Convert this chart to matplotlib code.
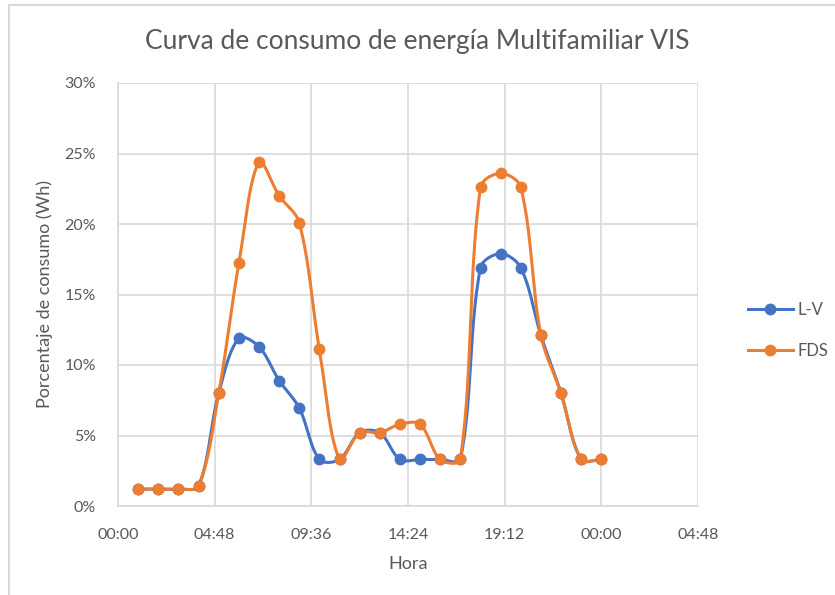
import matplotlib.pyplot as plt
import matplotlib.ticker as mticker
from matplotlib.patches import Rectangle
import numpy as np

plt.rcParams['font.family'] = ['Lato', 'DejaVu Sans']

# horas del dia 1..24 (fraccion de dia)
horas = list(range(1, 25))
lv = [1.2, 1.2, 1.2, 1.4, 8.0, 11.9, 11.3, 8.9, 6.95, 3.3, 3.3, 5.2,
      5.2, 3.3, 3.3, 3.3, 3.3, 16.9, 17.9, 16.9, 12.1, 8.0, 3.3, 3.3]
fds = [1.2, 1.2, 1.2, 1.4, 8.0, 17.2, 24.4, 22.0, 20.1, 11.1, 3.3, 5.2,
       5.2, 5.8, 5.8, 3.3, 3.3, 22.6, 23.6, 22.6, 12.1, 8.0, 3.3, 3.3]
xticks_lbl = ['00:00', '04:48', '09:36', '14:24', '19:12', '00:00', '04:48']

gris = '#595959'
azul = '#4472C4'
naranja = '#ED7D31'

# escala aproximada en pixeles para el suavizado
SX = 580 / 1.2
SY = 423 / 0.30


def suavizar(x, y, n=30):
    # curva suavizada estilo Excel (Bezier con tangentes ponderadas)
    p = np.column_stack([np.asarray(x, float) * SX, np.asarray(y, float) * SY])
    p = np.vstack([p[0], p, p[-1]])
    t = np.linspace(0, 1, n)[:, None]
    out = []
    for i in range(1, len(p) - 2):
        p0, p1 = p[i], p[i + 1]
        d01 = np.linalg.norm(p[i] - p[i - 1])
        d12 = np.linalg.norm(p1 - p0)
        d23 = np.linalg.norm(p[i + 2] - p1)
        c1 = p0 + (p1 - p[i - 1]) * (d12 / (d01 + d12) / 3 if d01 + d12 else 0)
        c2 = p1 - (p[i + 2] - p0) * (d12 / (d12 + d23) / 3 if d12 + d23 else 0)
        b = (1 - t) ** 3 * p0 + 3 * (1 - t) ** 2 * t * c1 + 3 * (1 - t) * t ** 2 * c2 + t ** 3 * p1
        out.append(b)
    out = np.vstack(out)
    return out[:, 0] / SX, out[:, 1] / SY


fig = plt.figure(figsize=(8.35, 5.95), dpi=100)
fig.patches.append(Rectangle((9 / 835, -0.1), 1.1, 1 - 5 / 595 + 0.1,
                             transform=fig.transFigure, fill=False,
                             edgecolor='#D9D9D9', linewidth=1.5))
ax = fig.add_axes([118 / 835, 1 - 506 / 595, 580 / 835, 423 / 595])

x = np.array(horas) / 24
for serie, color, nombre in [(lv, azul, 'L-V'), (fds, naranja, 'FDS')]:
    y = np.array(serie) / 100
    sx, sy = suavizar(x, y)
    ax.plot(sx, sy, color=color, linewidth=2.2, zorder=3)
    ax.plot(x, y, 'o', color=color, markersize=7.5, zorder=4)
    ax.plot([], [], '-o', color=color, linewidth=2.2, markersize=7.5, label=nombre)

ax.set_xlim(0, 1.2)
ax.set_ylim(0, 0.30)
ax.set_xticks(np.arange(0, 1.21, 0.2))
ax.set_xticklabels(xticks_lbl)
ax.set_yticks(np.arange(0, 0.301, 0.05))
ax.yaxis.set_major_formatter(mticker.PercentFormatter(1.0, decimals=0))
ax.grid(True, color='#D9D9D9', linewidth=1.2)
ax.set_axisbelow(True)
for s in ['top', 'right']:
    ax.spines[s].set_visible(False)
for s in ['left', 'bottom']:
    ax.spines[s].set_color('#D9D9D9')
    ax.spines[s].set_linewidth(1.2)
ax.tick_params(axis='y', length=0, colors=gris, labelsize=11.5, pad=16)
ax.tick_params(axis='x', length=0, colors=gris, labelsize=11.5, pad=16)

ax.set_xlabel('Hora', color=gris, fontsize=13, labelpad=10)
ax.set_ylabel('Porcentaje de consumo (Wh)', color=gris, fontsize=13, labelpad=8)
fig.text(0.5, 1 - 42 / 595, 'Curva de consumo de energía Multifamiliar VIS',
         ha='center', va='center', fontsize=19, color=gris)

leg = ax.legend(loc='center left', bbox_to_anchor=(1.06, 0.415), frameon=False,
                fontsize=12, labelspacing=1.5, handlelength=2.7, handletextpad=0.3)
for t in leg.get_texts():
    t.set_color(gris)

fig.savefig('out.png', dpi=100)
